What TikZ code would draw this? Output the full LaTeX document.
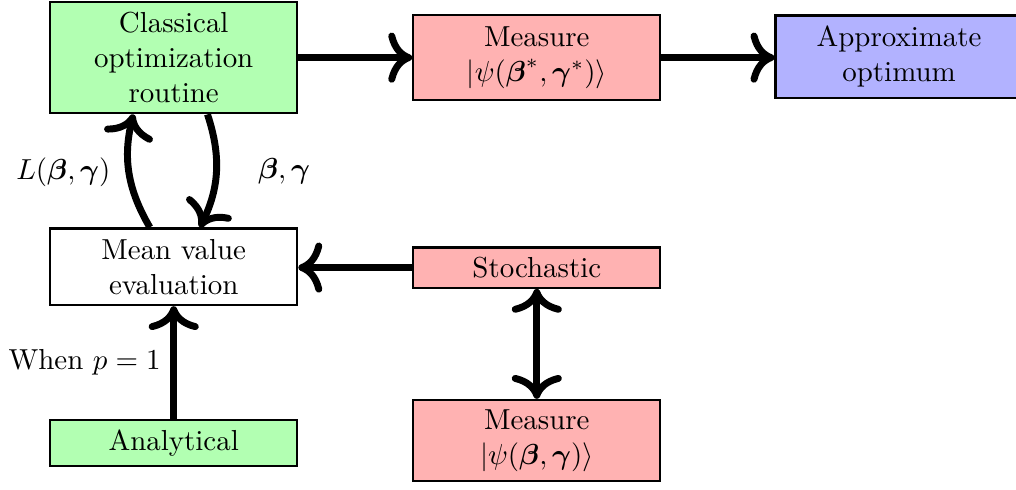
\documentclass[tikz,border=0pt]{standalone}
\usepackage{amsmath}
\usetikzlibrary{arrows.meta}
\begin{document}
\begin{tikzpicture}[
    box/.style={draw, thick, minimum width=3cm, align=center},
    arrow/.style={-{Computer Modern Rightarrow[scale=1.2]}, line width=2.4pt},
    twoarrow/.style={{Computer Modern Rightarrow[scale=1.2]}-{Computer Modern Rightarrow[scale=1.2]}, line width=2.4pt}
]
    % Frame
    \useasboundingbox (0,0) rectangle (12.34,-5.95);
    \clip (0,0) rectangle (12.34,-5.95);

    % Top row
    \node[box, fill=green!30, minimum height=1.35cm] (classical) at (2.11,-0.70) {Classical\\optimization\\routine};
    \node[box, fill=red!30, minimum height=1.03cm] (measuretop) at (6.52,-0.70) {Measure\\$|\psi(\boldsymbol{\beta}^{*},\boldsymbol{\gamma}^{*})\rangle$};
    \node[box, fill=blue!30, minimum height=1.0cm] (approx) at (10.92,-0.69) {Approximate\\optimum};

    % Middle row
    \node[box, minimum height=0.93cm] (mean) at (2.11,-3.24) {Mean value\\evaluation};
    \node[box, fill=red!30, minimum height=0.48cm] (stoch) at (6.52,-3.25) {Stochastic};

    % Bottom row
    \node[box, fill=green!30, minimum height=0.56cm] (analytic) at (2.11,-5.38) {Analytical};
    \node[box, fill=red!30, minimum height=0.92cm] (measurebot) at (6.52,-5.35) {Measure\\$|\psi(\boldsymbol{\beta},\boldsymbol{\gamma})\rangle$};

    % Arrows
    \draw[arrow] (classical.east |- measuretop.west) -- (measuretop.west);
    \draw[arrow] (measuretop.east) -- (approx.west |- measuretop.east);
    \draw[arrow] ([xshift=-0.29cm]mean.north) to[bend left=22]
        node[left=0.07cm] {$L(\boldsymbol{\beta},\boldsymbol{\gamma})$} ([xshift=-0.49cm]classical.south);
    \draw[arrow] ([xshift=0.41cm]classical.south) to[bend left=22]
        node[right=0.35cm] {$\boldsymbol{\beta},\boldsymbol{\gamma}$} ([xshift=0.32cm]mean.north);
    \draw[arrow] (stoch.west) -- (mean.east |- stoch.west);
    \draw[arrow] (analytic.north) -- node[left] {When $p=1$} (mean.south);
    \draw[twoarrow] (stoch.south) -- (measurebot.north);
\end{tikzpicture}
\end{document}
